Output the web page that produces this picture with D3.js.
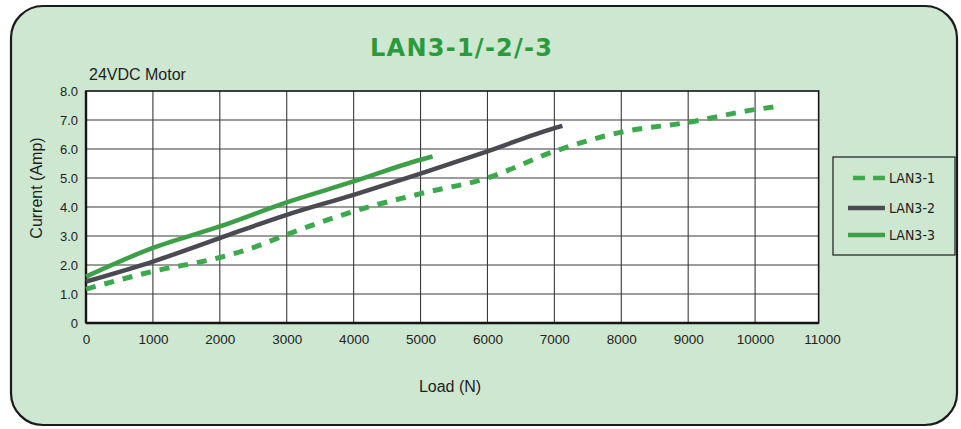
<!DOCTYPE html>
<html><head><meta charset="utf-8">
<script src="https://cdn.jsdelivr.net/npm/d3@7"></script>
<style>html,body{margin:0;padding:0;background:#fff;}svg{display:block;}</style>
</head><body>
<svg id="c" width="961" height="429"></svg>
<script>
// ---- data ----
const xTicks = [0,1000,2000,3000,4000,5000,6000,7000,8000,9000,10000,11000];
const yTicks = [0,1,2,3,4,5,6,7,8];
const seriesNames = ["LAN3-1","LAN3-2","LAN3-3"];
const lan31Load = [0,1000,2000,2500,3000,4000,5000,6000,7000,8000,9000,10000,10360];
const lan31Amp  = [1.17,1.78,2.26,2.6,3.05,3.85,4.46,5.0,5.92,6.58,6.92,7.36,7.47];
const lan32Load = [0,1000,2000,3000,4000,5000,6000,7000,7120];
const lan32Amp  = [1.43,2.12,2.93,3.73,4.42,5.15,5.92,6.72,6.8];
const lan33Load = [0,1000,2000,3000,4000,5000,5180];
const lan33Amp  = [1.6,2.59,3.33,4.16,4.88,5.63,5.74];

const svg = d3.select("#c");
const bg = "#cde7d0";
// panel
svg.append("rect").attr("x",11).attr("y",6).attr("width",946).attr("height",419)
  .attr("rx",32).attr("ry",32).attr("fill",bg).attr("stroke","#1b1b1b").attr("stroke-width",2.2);

const L=86,R=822,T=91,B=323;
const x = d3.scaleLinear().domain([0,11000]).range([L,R]);
const y = d3.scaleLinear().domain([0,8]).range([B,T]);

svg.append("rect").attr("x",L).attr("y",T).attr("width",x(10950)-L).attr("height",B-T).attr("fill","#fff");

// grid
const g = svg.append("g");
g.selectAll("line.v").data(xTicks.filter(d=>d>0 && d<11000)).enter().append("line")
  .attr("x1",d=>x(d)).attr("x2",d=>x(d)).attr("y1",T).attr("y2",B)
  .attr("stroke","#3a3a3a").attr("stroke-width",1.1);
g.selectAll("line.h").data(yTicks.filter(d=>d>0 && d<8)).enter().append("line")
  .attr("x1",L).attr("x2",x(10950)).attr("y1",d=>y(d)).attr("y2",d=>y(d))
  .attr("stroke","#3a3a3a").attr("stroke-width",1.1);
// border
svg.append("rect").attr("x",L).attr("y",T).attr("width",x(10950)-L).attr("height",B-T)
  .attr("fill","none").attr("stroke","#151515").attr("stroke-width",1.6);
svg.append("line").attr("x1",L).attr("x2",x(10950)).attr("y1",B).attr("y2",B).attr("stroke","#151515").attr("stroke-width",2.4);
svg.append("line").attr("x1",L).attr("x2",L).attr("y1",T).attr("y2",B).attr("stroke","#151515").attr("stroke-width",2.4);

// axes (text only, via d3 axes)
const xAxis = d3.axisBottom(x).tickValues(xTicks).tickSize(0).tickPadding(10).tickFormat(d=>String(d));
const xa = svg.append("g").attr("transform",`translate(0,${B+1})`).call(xAxis);
xa.select(".domain").remove();
xa.selectAll("text").attr("font-family","Liberation Sans, Arial, sans-serif").attr("font-size",13.5).attr("fill","#222");

const yAxis = d3.axisLeft(y).tickValues(yTicks).tickSize(0).tickPadding(8).tickFormat(d=>d===0?"0":d3.format(".1f")(d));
const ya = svg.append("g").attr("transform",`translate(${L},0)`).call(yAxis);
ya.select(".domain").remove();
ya.selectAll("text").attr("font-family","Liberation Sans, Arial, sans-serif").attr("font-size",13).attr("fill","#222");

// lines
const line = d3.line().x(d=>x(d[0])).y(d=>y(d[1])).curve(d3.curveMonotoneX);
const zip = (a,b)=>a.map((v,i)=>[v,b[i]]);
const colDash="#3caa4c", colGray="#4a4a52", colGreen="#3d9f48";
svg.append("path").datum(zip(lan32Load,lan32Amp)).attr("d",line).attr("fill","none")
  .attr("stroke",colGray).attr("stroke-width",4.5);
svg.append("path").datum(zip(lan31Load,lan31Amp)).attr("d",line).attr("fill","none")
  .attr("stroke",colDash).attr("stroke-width",5).attr("stroke-dasharray","10,9");
svg.append("path").datum(zip(lan33Load,lan33Amp)).attr("d",line).attr("fill","none")
  .attr("stroke",colGreen).attr("stroke-width",4.5);

// titles
svg.append("text").attr("x",461).attr("y",56).attr("text-anchor","middle")
  .attr("font-family","DejaVu Sans, Verdana, sans-serif").attr("font-weight","bold").attr("font-size",24)
  .attr("fill","#2b9a3d").attr("textLength",182).attr("lengthAdjust","spacing").text("LAN3-1/-2/-3");
svg.append("text").attr("x",89).attr("y",80).attr("font-family","Liberation Sans, Arial, sans-serif")
  .attr("font-size",16).attr("fill","#1e1e1e").text("24VDC Motor");
svg.append("text").attr("x",450).attr("y",392).attr("text-anchor","middle").attr("font-family","Liberation Sans, Arial, sans-serif")
  .attr("font-size",16).attr("fill","#1e1e1e").text("Load (N)");
svg.append("text").attr("transform","translate(42,188) rotate(-90)").attr("text-anchor","middle")
  .attr("font-family","Liberation Sans, Arial, sans-serif").attr("font-size",16).attr("fill","#1e1e1e").text("Current (Amp)");

// legend
const lg = svg.append("g");
lg.append("rect").attr("x",833).attr("y",157).attr("width",122).attr("height",98)
  .attr("fill",bg).attr("stroke","#2a2a2a").attr("stroke-width",1.3);
const styles=[{c:colDash,d:"12,8"},{c:colGray,d:null},{c:colGreen,d:null}];
const ly=[178,208,235];
seriesNames.forEach((n,i)=>{
  const l=lg.append("line").attr("x1",848).attr("x2",885).attr("y1",ly[i]).attr("y2",ly[i])
    .attr("stroke",styles[i].c).attr("stroke-width",4.5);
  if(styles[i].d) l.attr("stroke-dasharray",styles[i].d).attr("x1",853);
  lg.append("text").attr("x",889).attr("y",ly[i]+5).attr("font-family","DejaVu Sans Condensed, DejaVu Sans, sans-serif")
    .attr("font-size",14).attr("fill","#222").text(n);
});
</script>
</body></html>
